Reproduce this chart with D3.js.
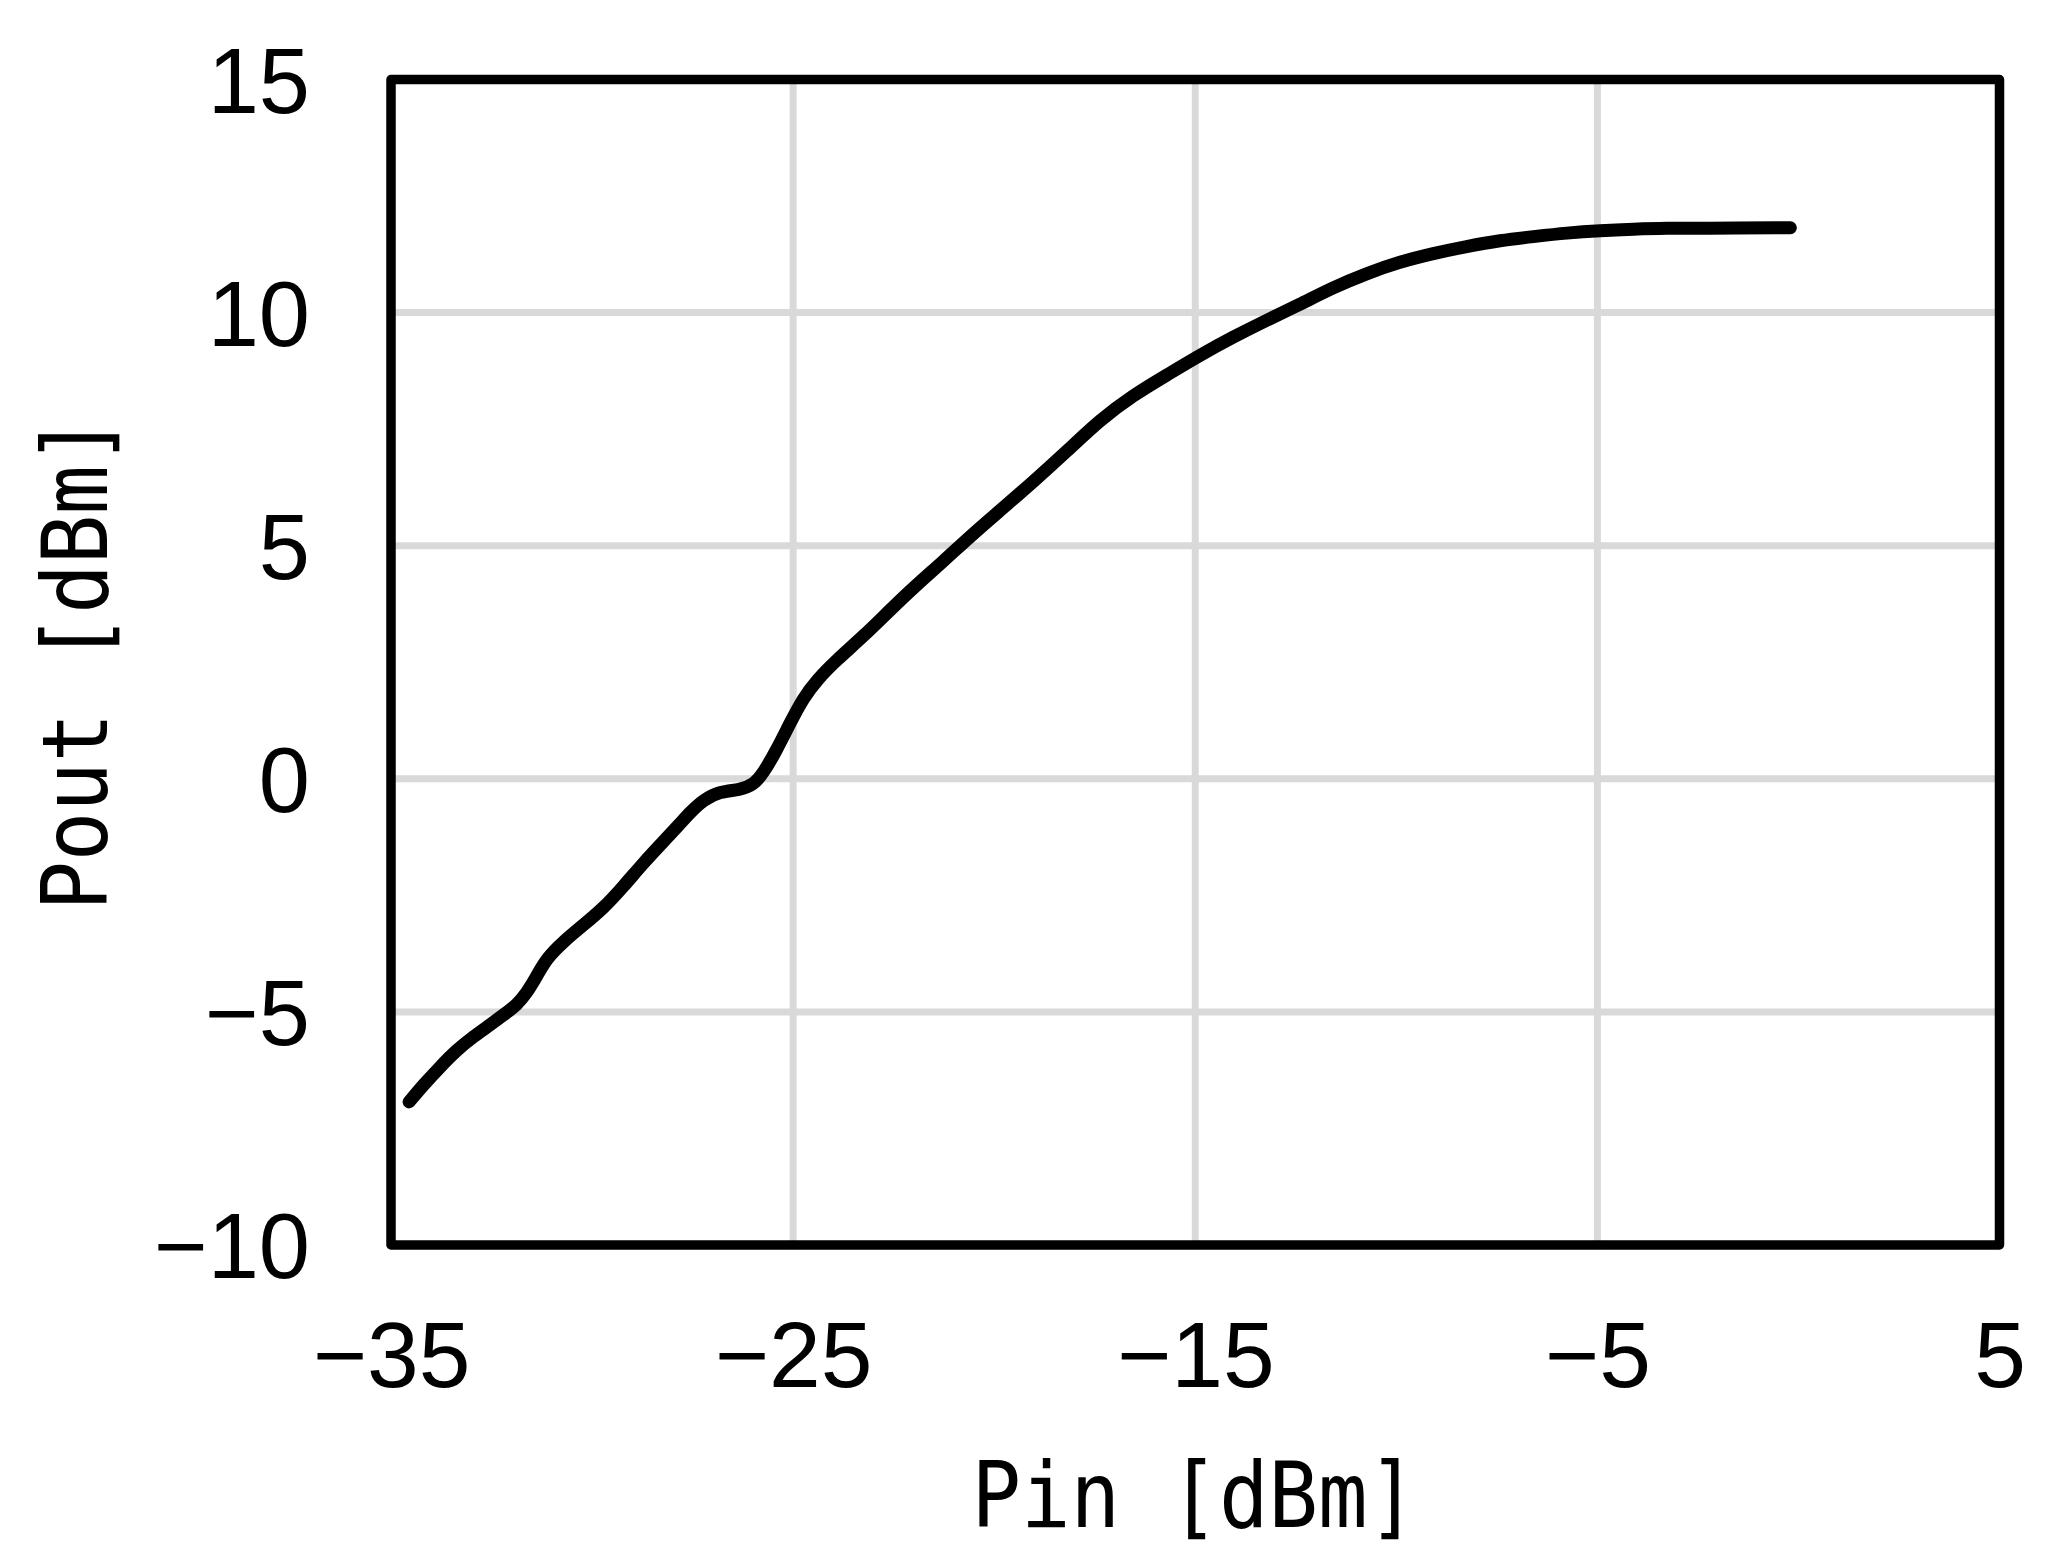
<!DOCTYPE html>
<html>
<head>
<meta charset="utf-8">
<script src="https://cdn.jsdelivr.net/npm/d3@7"></script>
<style>
  html, body { margin: 0; padding: 0; background: #fff; }
  svg { display: block; }
</style>
</head>
<body>
<svg id="chart" width="2069" height="1567"></svg>
<script>
// ---- data ----
const pinValues = [-34.55, -34.2, -33.78, -33.37, -32.95, -32.54, -32.21, -31.87, -31.63, -31.38,
  -31.13, -30.71, -30.22, -29.72, -29.22, -28.73, -28.23, -27.81, -27.56, -27.23,
  -26.82, -26.32, -25.99, -25.74, -25.41, -25.08, -24.75, -24.41, -23.92, -23.26,
  -22.59, -21.93, -21.27, -20.6, -19.86, -19.03, -18.2, -17.37, -16.54, -15.71,
  -14.88, -14.05, -13.22, -12.39, -11.57, -10.74, -9.91, -9.08, -8.25, -7.42,
  -6.59, -5.76, -4.93, -4.1, -3.27, -2.44, -0.2];
const poutValues = [-6.93, -6.57, -6.18, -5.82, -5.53, -5.28, -5.07, -4.85, -4.60, -4.24,
  -3.85, -3.49, -3.14, -2.78, -2.31, -1.81, -1.35, -0.96, -0.72, -0.45,
  -0.27, -0.24, -0.13, 0.12, 0.62, 1.19, 1.73, 2.12, 2.55, 3.05,
  3.62, 4.16, 4.66, 5.2, 5.75, 6.37, 7.02, 7.70, 8.23, 8.66,
  9.09, 9.48, 9.84, 10.18, 10.54, 10.84, 11.09, 11.27, 11.42, 11.55,
  11.63, 11.71, 11.76, 11.79, 11.81, 11.81, 11.82];
const xTicks = [-35, -25, -15, -5, 5];
const yTicks = [-10, -5, 0, 5, 10, 15];
const xTitle = "Pin [dBm]";
const yTitle = "Pout [dBm]";

(function () {
// ---- layout ----
const pL = 391, pR = 1999.5, pT = 79.5, pB = 1245;
const W = pR - pL, H = pB - pT;
const svg = d3.select("#chart");

const x = d3.scaleLinear().domain([-35, 5]).range([pL, pR]);
const y = d3.scaleLinear().domain([-10, 15]).range([pB, pT]);
const minus = d => String(d).replace("-", "\u2212");

// gridlines
const grid = svg.append("g");
grid.selectAll("line.gx").data(xTicks.slice(1, -1)).join("line")
  .attr("class", "gx")
  .attr("x1", d => x(d)).attr("x2", d => x(d))
  .attr("y1", pT).attr("y2", pB)
  .attr("stroke", "#d9d9d9").attr("stroke-width", 7);
grid.selectAll("line.gy").data(yTicks.slice(1, -1)).join("line")
  .attr("class", "gy")
  .attr("y1", d => y(d)).attr("y2", d => y(d))
  .attr("x1", pL).attr("x2", pR)
  .attr("stroke", "#d9d9d9").attr("stroke-width", 7);

// axes (labels only)
const fontTick = "'Liberation Sans', Arial, sans-serif";
const xAxis = svg.append("g").attr("transform", `translate(0,${pB})`)
  .call(d3.axisBottom(x).tickValues(xTicks).tickSize(0).tickPadding(0).tickFormat(minus));
xAxis.select(".domain").remove();
xAxis.selectAll("text")
  .attr("y", 142).attr("dy", null)
  .attr("font-family", fontTick).attr("font-size", 93).attr("fill", "#000");

const yAxis = svg.append("g").attr("transform", `translate(${pL},0)`)
  .call(d3.axisLeft(y).tickValues(yTicks).tickSize(0).tickPadding(0).tickFormat(minus));
yAxis.select(".domain").remove();
yAxis.selectAll("text")
  .attr("x", -81).attr("dy", "0.355em")
  .attr("font-family", fontTick).attr("font-size", 92).attr("fill", "#000");

// frame
svg.append("rect")
  .attr("x", pL).attr("y", pT).attr("width", W).attr("height", H)
  .attr("fill", "none").attr("stroke", "#000").attr("stroke-width", 9.5)
  .attr("stroke-linejoin", "round");

// curve
const pts = pinValues.map((p, i) => [p, poutValues[i]]);
const line = d3.line().x(d => x(d[0])).y(d => y(d[1])).curve(d3.curveBasis);
svg.append("path").datum(pts)
  .attr("d", line)
  .attr("fill", "none").attr("stroke", "#000").attr("stroke-width", 13)
  .attr("stroke-linecap", "round").attr("stroke-linejoin", "round");

// axis titles (monospaced, half-width cells like a Gothic font)
const fontTitle = "'DejaVu Sans Mono', 'Liberation Mono', monospace";
const cell = 49.5, sx = 0.9;
const cx = (pL + pR) / 2 - 1;
const xChars = xTitle.split("");
svg.append("text")
  .attr("transform", `translate(${cx},1527) scale(${sx},1)`)
  .attr("x", xChars.map((c, i) => ((i - (xChars.length - 1) / 2) * cell / sx).toFixed(2)).join(" "))
  .attr("y", 0)
  .attr("text-anchor", "middle")
  .attr("font-family", fontTitle).attr("font-size", 91.5).attr("fill", "#000")
  .text(xTitle);

const cy = (pT + pB) / 2 + 1;
const yChars = yTitle.split("");
svg.append("text")
  .attr("transform", `translate(107,${cy}) rotate(-90) scale(${sx},1)`)
  .attr("x", yChars.map((c, i) => ((i - (yChars.length - 1) / 2) * cell / sx).toFixed(2)).join(" "))
  .attr("y", 0)
  .attr("text-anchor", "middle")
  .attr("font-family", fontTitle).attr("font-size", 91.5).attr("fill", "#000")
  .text(yTitle);
})();
</script>
</body>
</html>
